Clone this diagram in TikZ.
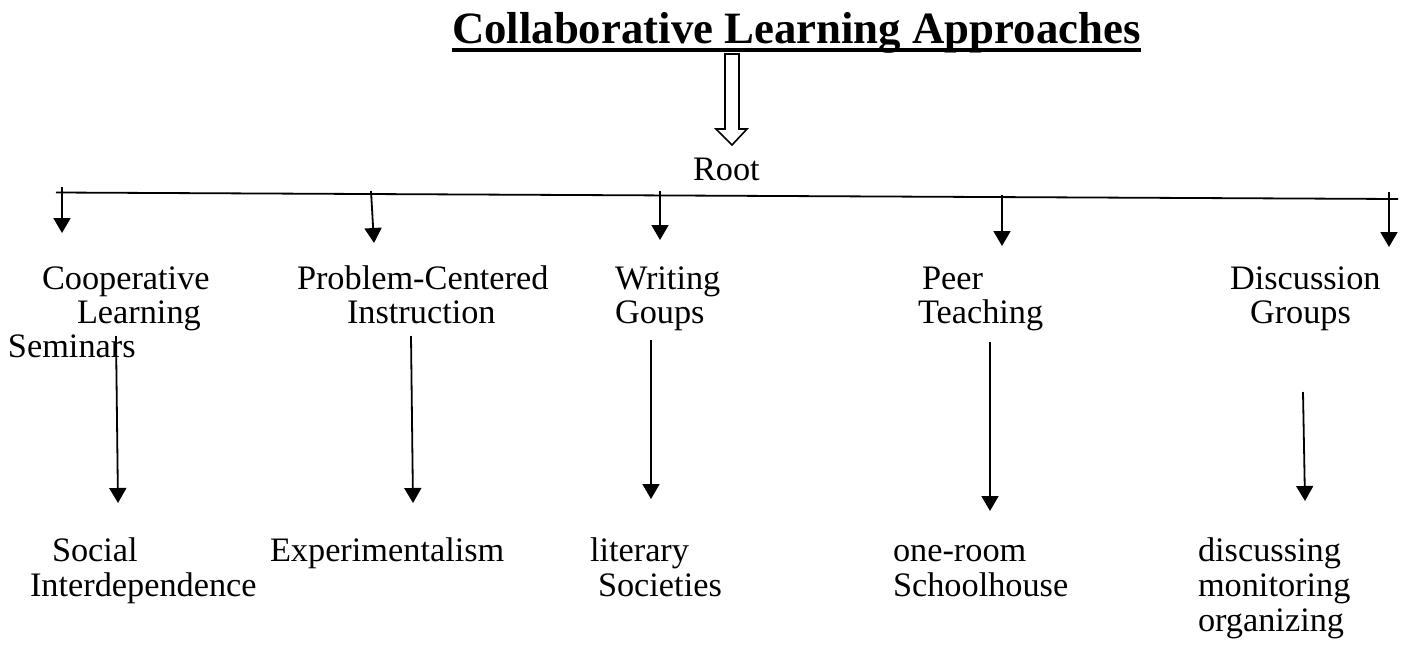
\documentclass[tikz,border=0pt]{standalone}
\usepackage{fontspec}
\setmainfont{Liberation Serif}
\usetikzlibrary{arrows.meta}
\tikzset{
  lbl/.style={anchor=base west, inner sep=0pt, outer sep=0pt, font=\fontsize{34.3}{40}\selectfont},
  ttl/.style={anchor=base west, inner sep=0pt, outer sep=0pt, font=\fontsize{44.8}{50}\selectfont\bfseries},
  arr/.style={-{Triangle[width=17pt,length=15pt]}, line width=1.8pt},
  bar/.style={line width=1.8pt},
  hollow/.style={draw=black, line width=1.6pt, fill=white, line join=miter}
}
\begin{document}
\begin{tikzpicture}[x=1pt,y=-1pt]
\useasboundingbox (0,0) rectangle (1406,648);
% title
\node[ttl] (title) at (452,43) {Collaborative Learning Approaches};
\draw[line width=3.5pt] (title.base west) ++(0,7) coordinate (ulA) -- (title.base east |- ulA) coordinate (ulB);
% hollow block arrow
\draw[hollow] (725,54) coordinate (ha) -- (739,54) -- (739,129) -- (747,129) -- (732,145) coordinate (htip) -- (716,129) -- (725,129) -- cycle;
\node[lbl] (root) at (693,180) {Root};
% horizontal bar
\coordinate (barL) at (56,192.5);
\coordinate (barR) at (1398,199);
\draw[bar] (barL) -- (barR);
% top arrows
\coordinate (t1) at (62,187);   \coordinate (e1) at (62,233);
\coordinate (t2) at (371,191);  \coordinate (e2) at (374,243);
\coordinate (t3) at (660,191);  \coordinate (e3) at (660,240);
\coordinate (t4) at (1002,195); \coordinate (e4) at (1002,246);
\coordinate (t5) at (1389,192); \coordinate (e5) at (1389,247);
\foreach \i in {1,...,5} {\draw[arr] (t\i) -- (e\i);}
% middle labels
\node[lbl] (coop1) at (42,289) {Cooperative};
\node[lbl] (coop2) at (77,323) {Learning};
\node[lbl] (semi) at (8,357) {Seminars};
\node[lbl] (prob1) at (297,289) {Problem-Centered};
\node[lbl] (prob2) at (347,323) {Instruction};
\node[lbl] (writ1) at (615,289) {Writing};
\node[lbl] (writ2) at (615,323) {Goups};
\node[lbl] (peer1) at (922,289) {Peer};
\node[lbl] (peer2) at (918,323) {Teaching};
\node[lbl] (disc1) at (1230,289) {Discussion};
\node[lbl] (disc2) at (1250,323) {Groups};
% lower arrows
\coordinate (u1) at (116,336);  \coordinate (v1) at (118,503);
\coordinate (u2) at (411,336);  \coordinate (v2) at (413,503);
\coordinate (u3) at (651,340);  \coordinate (v3) at (651,499);
\coordinate (u4) at (990,342);  \coordinate (v4) at (990,511);
\coordinate (u5) at (1303,392); \coordinate (v5) at (1305,501);
\foreach \i in {1,...,5} {\draw[arr] (u\i) -- (v\i);}
% bottom labels
\node[lbl] (soc1) at (52,561) {Social};
\node[lbl] (soc2) at (30,596) {Interdependence};
\node[lbl] (exp) at (270,561) {Experimentalism};
\node[lbl] (lit1) at (590,561) {literary};
\node[lbl] (lit2) at (598,596) {Societies};
\node[lbl] (one1) at (893,561) {one-room};
\node[lbl] (one2) at (893,596) {Schoolhouse};
\node[lbl] (dis1) at (1198,561) {discussing};
\node[lbl] (dis2) at (1198,596) {monitoring};
\node[lbl] (dis3) at (1198,631) {organizing};
\end{tikzpicture}
\end{document}
